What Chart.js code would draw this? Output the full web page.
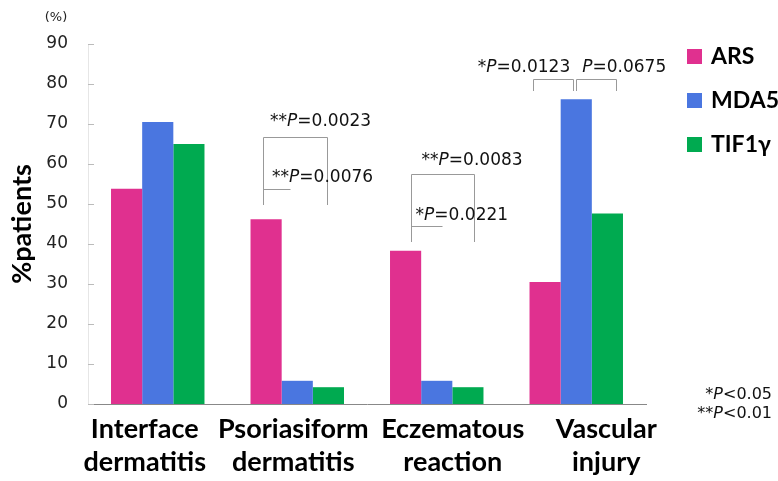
<!DOCTYPE html>
<html>
<head>
<meta charset="utf-8">
<script src="https://cdn.jsdelivr.net/npm/chart.js@4"></script>
<style>
  body { margin: 0; background: #fff; }
  #wrap { width: 778px; height: 481px; }
</style>
</head>
<body>
<div id="wrap"><canvas id="chart" width="778" height="481"></canvas></div>
<script>
const categories = [
  ["Interface", "dermatitis"],
  ["Psoriasiform", "dermatitis"],
  ["Eczematous", "reaction"],
  ["Vascular", "injury"],
];
const seriesNames = ["ARS", "MDA5", "TIF1\u03b3"];
const ars = [53.8, 46.2, 38.3, 30.5];
const mda5 = [70.5, 5.8, 5.8, 76.2];
const tif1 = [65.0, 4.2, 4.2, 47.6];
const yTicks = [0, 10, 20, 30, 40, 50, 60, 70, 80, 90];
const colors = ["#E0308F", "#4A76E0", "#00AA50"];

// significance brackets: category, bar from/to, top level, leg bottom
const brackets = [
  { cat: 1, from: 0, to: 2, top: 66.75, bottom: 49.75, dx1: -3, dx2: -1 },
  { cat: 1, from: 0, to: 1, top: 53.75, bottom: 49.75, dx1: -3, dx2: -7, noRightLeg: true },
  { cat: 2, from: 0, to: 2, top: 57.5, bottom: 40.5, dx1: 5, dx2: 6 },
  { cat: 2, from: 0, to: 1, top: 44.5, bottom: 40.5, dx1: 5, dx2: 5, noRightLeg: true },
  { cat: 3, from: 0, to: 1, top: 81.25, bottom: 78.25, dx1: -12, dx2: -3 },
  { cat: 3, from: 1, to: 2, top: 81.25, bottom: 78.25, dx1: 0, dx2: 9 },
];
const pLabels = [
  { cat: 1, bar: 0, align: "left", dx: 4, y: 70.5, stars: "**", p: "=0.0023" },
  { cat: 1, bar: 0, align: "left", dx: 6, y: 56.5, stars: "**", p: "=0.0076" },
  { cat: 2, bar: 0, align: "left", dx: 16, y: 60.75, stars: "**", p: "=0.0083" },
  { cat: 2, bar: 0, align: "left", dx: 10, y: 47, stars: "*", p: "=0.0221" },
  { cat: 3, bar: 1, align: "right", dx: -6, y: 84, stars: "*", p: "=0.0123" },
  { cat: 3, bar: 1, align: "left", dx: 6, y: 84, stars: "", p: "=0.0675" },
];
// the category labels sit a little off the group centres in the original
const labelShift = [-13, -4, 16, 30];

const FONT = "'DejaVu Sans', Verdana, sans-serif";
const BOLD = "Lato, 'Open Sans', sans-serif";

function drawP(ctx, x, y, stars, p, align, size) {
  const reg = size + "px " + FONT;
  const ita = "oblique " + size + "px " + FONT;
  ctx.font = reg;
  const w1 = ctx.measureText(stars).width;
  const w3 = ctx.measureText(p).width;
  ctx.font = ita;
  const w2 = ctx.measureText("P").width;
  let sx = align === "right" ? x - (w1 + w2 + w3) : x;
  ctx.textAlign = "left";
  ctx.textBaseline = "middle";
  ctx.fillStyle = "#111";
  ctx.font = reg;
  ctx.fillText(stars, sx, y);
  ctx.font = ita;
  ctx.fillText("P", sx + w1, y);
  ctx.font = reg;
  ctx.fillText(p, sx + w1 + w2, y);
}

const extras = {
  id: "extras",
  afterDatasetsDraw(chart) {
    const ctx = chart.ctx;
    const y = chart.scales.y;
    const x = chart.scales.x;
    const area = chart.chartArea;
    ctx.save();

    // small tick marks inside the axis
    ctx.strokeStyle = "#bbb";
    ctx.lineWidth = 1;
    yTicks.forEach((v) => {
      const py = Math.round(y.getPixelForValue(v)) + 0.5;
      ctx.beginPath();
      ctx.moveTo(area.left, py);
      ctx.lineTo(area.left + 6, py);
      ctx.stroke();
    });

    // brackets
    ctx.strokeStyle = "#999";
    brackets.forEach((b) => {
      const x1 = Math.round(chart.getDatasetMeta(b.from).data[b.cat].x + b.dx1) + 0.5;
      const x2 = Math.round(chart.getDatasetMeta(b.to).data[b.cat].x + b.dx2) + 0.5;
      const yt = Math.round(y.getPixelForValue(b.top)) + 0.5;
      const yb = y.getPixelForValue(b.bottom);
      ctx.beginPath();
      ctx.moveTo(x1, yb);
      ctx.lineTo(x1, yt);
      ctx.lineTo(x2, yt);
      if (!b.noRightLeg) ctx.lineTo(x2, yb);
      ctx.stroke();
    });

    pLabels.forEach((l) => {
      const px = chart.getDatasetMeta(l.bar).data[l.cat].x + l.dx;
      drawP(ctx, px, y.getPixelForValue(l.y), l.stars, l.p, l.align, 17);
    });

    // category labels
    ctx.fillStyle = "#000";
    ctx.font = "bold 27px " + BOLD;
    ctx.textAlign = "center";
    ctx.textBaseline = "alphabetic";
    categories.forEach((lines, i) => {
      const cx = x.getPixelForValue(i) + labelShift[i];
      lines.forEach((t, k) => ctx.fillText(t, cx, area.bottom + 34 + k * 33));
    });

    // legend
    seriesNames.forEach((name, i) => {
      const ly = area.top + 12 + i * 44;
      ctx.fillStyle = colors[i];
      ctx.fillRect(area.right + 41, ly - 7, 15, 15);
      ctx.fillStyle = "#000";
      ctx.font = "bold 23px " + BOLD;
      ctx.textAlign = "left";
      ctx.textBaseline = "middle";
      ctx.fillText(name, area.right + 65, ly + 1);
    });

    // (%) unit and footnote
    ctx.fillStyle = "#222";
    ctx.font = "13px " + FONT;
    ctx.textAlign = "center";
    ctx.textBaseline = "middle";
    ctx.fillText("(%)", 56, 18);

    drawP(ctx, 772, 395, "*", "<0.05", "right", 16);
    drawP(ctx, 772, 414, "**", "<0.01", "right", 16);
    ctx.restore();
  },
};

const datasets = [ars, mda5, tif1].map((vals, i) => ({
  label: seriesNames[i],
  data: vals,
  backgroundColor: colors[i],
  barPercentage: 1,
  categoryPercentage: 0.67,
}));

new Chart(document.getElementById("chart"), {
  type: "bar",
  data: { labels: categories, datasets: datasets },
  options: {
    responsive: false,
    animation: false,
    devicePixelRatio: 1,
    layout: { padding: { top: 44, right: 132, left: 0, bottom: 0 } },
    plugins: { legend: { display: false }, tooltip: { enabled: false } },
    scales: {
      x: {
        grid: { display: false, drawTicks: false },
        border: { display: true, color: "#888", width: 1 },
        ticks: { display: false },
        afterFit(scale) {
          scale.height = 77;
        },
      },
      y: {
        min: 0,
        max: 90,
        afterBuildTicks(scale) {
          scale.ticks = yTicks.map((v) => ({ value: v }));
        },
        grid: { display: false, drawTicks: false },
        border: { display: true, color: "#e6e6e6", width: 1 },
        ticks: {
          color: "#222",
          font: { family: FONT, size: 17 },
          padding: 20,
        },
        title: {
          display: true,
          text: "%patients",
          color: "#000",
          font: { family: BOLD, size: 27, weight: "bold" },
          padding: { top: 6, bottom: 0 },
        },
        afterFit(scale) {
          scale.width = 88;
        },
      },
    },
  },
  plugins: [extras],
});
</script>
</body>
</html>
